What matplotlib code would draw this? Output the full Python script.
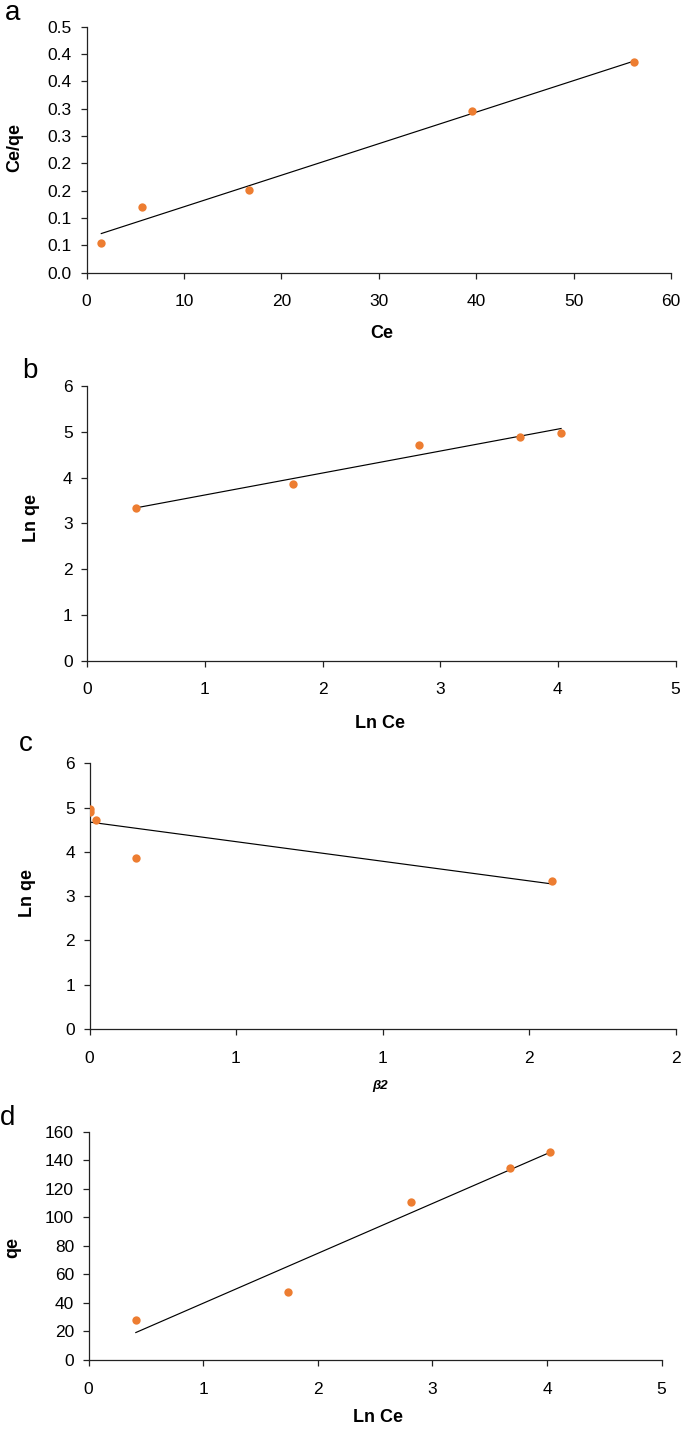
import matplotlib
matplotlib.use("Agg")
import matplotlib.pyplot as plt
import numpy as np

plt.rcParams['font.family'] = ['Liberation Sans', 'DejaVu Sans']

# ---------------- data ----------------
# (a) Langmuir
a_ce = [1.52, 5.69, 16.7, 39.6, 56.2]
a_ce_qe = [0.054, 0.120, 0.151, 0.295, 0.385]
a_yticks = [0.0, 0.05, 0.10, 0.15, 0.20, 0.25, 0.30, 0.35, 0.40, 0.45]
a_yticklabels = ['0.0', '0.1', '0.1', '0.2', '0.2', '0.3', '0.3', '0.4', '0.4', '0.5']
a_xticks = [0, 10, 20, 30, 40, 50, 60]

# (b) Freundlich
b_lnce = [0.416, 1.745, 2.817, 3.679, 4.027]
b_lnqe = [3.343, 3.860, 4.705, 4.894, 4.982]
b_yticks = [0, 1, 2, 3, 4, 5, 6]
b_xticks = [0, 1, 2, 3, 4, 5]

# (c) D-R
c_beta2 = [1.577, 0.159, 0.021, 0.003, 0.0015]
c_lnqe = [3.343, 3.863, 4.714, 4.910, 4.977]
c_yticks = [0, 1, 2, 3, 4, 5, 6]
c_xticks = [0, 0.5, 1.0, 1.5, 2.0]
c_xticklabels = ['0', '1', '1', '2', '2']

# (d) Temkin
d_lnce = [0.412, 1.738, 2.813, 3.678, 4.028]
d_qe = [28.0, 47.4, 111.0, 134.5, 146.0]
d_yticks = [0, 20, 40, 60, 80, 100, 120, 140, 160]
d_xticks = [0, 1, 2, 3, 4, 5]

# ---------------- layout ----------------
W, H = 682, 1433
fig = plt.figure(figsize=(W / 100, H / 100), dpi=100)

def rect(l, r, t, b):
    return [l / W, 1 - b / H, (r - l) / W, (b - t) / H]

ORANGE = '#ED7D31'
TICKFS = 12.5
LABFS = 13

def style(ax):
    for s in ['top', 'right']:
        ax.spines[s].set_visible(False)
    for s in ['left', 'bottom']:
        ax.spines[s].set_linewidth(0.9)
        ax.spines[s].set_color('#222222')
    ax.tick_params(axis='both', direction='out', length=4.5, width=0.9,
                   labelsize=TICKFS, color='#222222')
    ax.tick_params(axis='x', pad=11)
    ax.tick_params(axis='y', pad=6)

def panel(ax, x, y):
    ax.scatter(x, y, s=36, color=ORANGE, zorder=3, linewidths=0)
    k, b = np.polyfit(x, y, 1)
    xs = np.array([min(x), max(x)])
    ax.plot(xs, k * xs + b, color='black', lw=0.85, zorder=2)

def set_labels(ax, xl, xpos, yl, ypos, xkw=None):
    xkw = xkw or dict(fontsize=LABFS, fontweight='bold')
    ax.set_xlabel(xl, **xkw)
    ax.set_ylabel(yl, fontsize=LABFS, fontweight='bold')
    ax.xaxis.set_label_coords(xpos[0] / W, 1 - xpos[1] / H, transform=fig.transFigure)
    ax.yaxis.set_label_coords(ypos[0] / W, 1 - ypos[1] / H, transform=fig.transFigure)
    ax.xaxis.label.set_va('center')
    ax.yaxis.label.set_va('center')

# (a)
ax = fig.add_axes(rect(86.5, 671, 26.7, 272.7))
panel(ax, a_ce, a_ce_qe)
ax.set_xlim(0, 60)
ax.set_ylim(0, 0.45)
ax.set_xticks(a_xticks)
ax.set_yticks(a_yticks)
ax.set_yticklabels(a_yticklabels)
style(ax)
set_labels(ax, 'Ce', (382, 334), 'Ce/qe', (15, 148))

# (b)
ax = fig.add_axes(rect(87.3, 675.5, 386, 660.7))
panel(ax, b_lnce, b_lnqe)
ax.set_xlim(0, 5)
ax.set_ylim(0, 6)
ax.set_xticks(b_xticks)
ax.set_yticks(b_yticks)
style(ax)
set_labels(ax, 'Ln Ce', (380, 723), 'Ln qe', (32, 518))

# (c)
ax = fig.add_axes(rect(89.5, 675.5, 763.3, 1029))
panel(ax, c_beta2, c_lnqe)
ax.set_xlim(0, 2.0)
ax.set_ylim(0, 6)
ax.set_xticks(c_xticks)
ax.set_xticklabels(c_xticklabels)
ax.set_yticks(c_yticks)
style(ax)
set_labels(ax, 'β2', (380, 1086), 'Ln qe', (28, 893),
           xkw=dict(fontsize=9.5, fontweight='bold', fontstyle='italic'))

# (d)
ax = fig.add_axes(rect(88.6, 661.6, 1131.7, 1360))
panel(ax, d_lnce, d_qe)
ax.set_xlim(0, 5)
ax.set_ylim(0, 160)
ax.set_xticks(d_xticks)
ax.set_yticks(d_yticks)
style(ax)
set_labels(ax, 'Ln Ce', (378, 1418), 'qe', (13, 1247))

# panel letters (baseline positions)
for letter, (px, py) in zip('abcd', [(13, 20), (30, 378), (26, 751), (8, 1125)]):
    fig.text(px / W, 1 - py / H, letter, fontsize=20, ha='center', va='baseline')

fig.savefig('out.png', dpi=100)
